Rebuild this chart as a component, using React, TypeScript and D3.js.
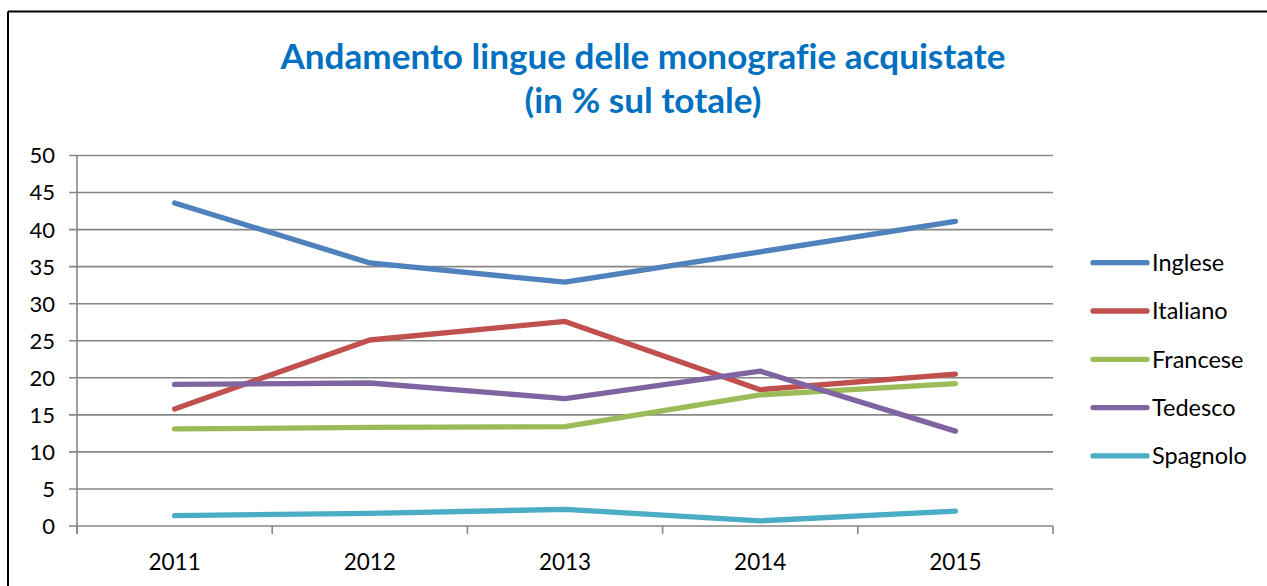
import React from "react";
import * as d3 from "d3";

const years = ["2011", "2012", "2013", "2014", "2015"];
const inglese = [43.6, 35.5, 32.9, 37.0, 41.1];
const italiano = [15.8, 25.1, 27.6, 18.4, 20.5];
const francese = [13.1, 13.3, 13.4, 17.7, 19.2];
const tedesco = [19.1, 19.3, 17.2, 20.9, 12.8];
const spagnolo = [1.4, 1.7, 2.25, 0.7, 2.0];
const yTicks = [0, 5, 10, 15, 20, 25, 30, 35, 40, 45, 50];
const seriesNames = ["Inglese", "Italiano", "Francese", "Tedesco", "Spagnolo"];
const seriesValues = [inglese, italiano, francese, tedesco, spagnolo];
const seriesColors = ["#4F81BD", "#C0504D", "#9BBB59", "#8064A2", "#4BACC6"];

const W = 1267;
const H = 586;
const FONT = "Lato, 'Open Sans', sans-serif";

export default function App() {
  const x = d3.scaleBand<string>().domain(years).range([77, 1053]).padding(0);
  const y = d3.scaleLinear().domain([0, 50]).range([526, 155.5]);
  const line = d3
    .line<number>()
    .x((_, i) => (x(years[i]) as number) + x.bandwidth() / 2)
    .y((d) => y(d));
  const boundaries = [...years.map((yr) => x(yr) as number), 1053];
  const legendY0 = 262.7;
  const legendStep = 48.3;

  return (
    <div style={{ position: "absolute", left: 0, top: 0 }}>
      <svg width={W} height={H} style={{ display: "block", background: "#fff" }}>
        <rect x={0} y={0} width={W} height={H} fill="#fff" />
        {/* outer border */}
        <line x1={8} y1={11.5} x2={W} y2={11.5} stroke="#000" strokeWidth={2} />
        <line x1={8} y1={11.5} x2={8} y2={H} stroke="#000" strokeWidth={2} />

        {/* title */}
        <text
          x={643}
          y={69}
          textAnchor="middle"
          fontFamily={FONT}
          fontWeight="bold"
          fontSize={34}
          textLength={725}
          lengthAdjust="spacingAndGlyphs"
          fill="#0070C0"
          style={{ fontVariantLigatures: "none" }}
        >
          Andamento lingue delle monografie acquistate
        </text>
        <text
          x={643}
          y={113}
          textAnchor="middle"
          fontFamily={FONT}
          fontWeight="bold"
          fontSize={34}
          textLength={237}
          lengthAdjust="spacingAndGlyphs"
          fill="#0070C0"
        >
          (in % sul totale)
        </text>

        {/* gridlines */}
        {yTicks.map((t) => (
          <line
            key={"g" + t}
            x1={69}
            x2={1053}
            y1={y(t)}
            y2={y(t)}
            stroke="#868686"
            strokeWidth={1.6}
          />
        ))}
        {/* y axis */}
        <line x1={77} x2={77} y1={155.5} y2={534} stroke="#868686" strokeWidth={1.6} />
        {/* x ticks */}
        {boundaries.map((b, i) => (
          <line key={"xt" + i} x1={b} x2={b} y1={526} y2={534} stroke="#868686" strokeWidth={1.6} />
        ))}

        {/* y labels */}
        {yTicks.map((t) => (
          <text
            key={"yl" + t}
            x={55}
            y={y(t)}
            dy="0.36em"
            textAnchor="end"
            fontFamily={FONT}
            fontSize={22}
            fill="#000"
          >
            {t}
          </text>
        ))}
        {/* x labels */}
        {years.map((yr) => (
          <text
            key={"xl" + yr}
            x={(x(yr) as number) + x.bandwidth() / 2}
            y={570}
            textAnchor="middle"
            fontFamily={FONT}
            fontSize={22.5}
            fill="#000"
          >
            {yr}
          </text>
        ))}

        {/* series */}
        {seriesValues.map((vals, i) => (
          <path
            key={"s" + i}
            d={line(vals) as string}
            fill="none"
            stroke={seriesColors[i]}
            strokeWidth={5.3}
            strokeLinecap="round"
            strokeLinejoin="round"
          />
        ))}

        {/* legend */}
        {seriesNames.map((n, i) => (
          <g key={"lg" + n}>
            <line
              x1={1093}
              x2={1147}
              y1={legendY0 + i * legendStep}
              y2={legendY0 + i * legendStep}
              stroke={seriesColors[i]}
              strokeWidth={5.3}
              strokeLinecap="round"
            />
            <text
              x={1152}
              y={legendY0 + i * legendStep}
              dy="0.36em"
              fontFamily={FONT}
              fontSize={23.5}
              fill="#000"
            >
              {n}
            </text>
          </g>
        ))}
      </svg>
    </div>
  );
}
